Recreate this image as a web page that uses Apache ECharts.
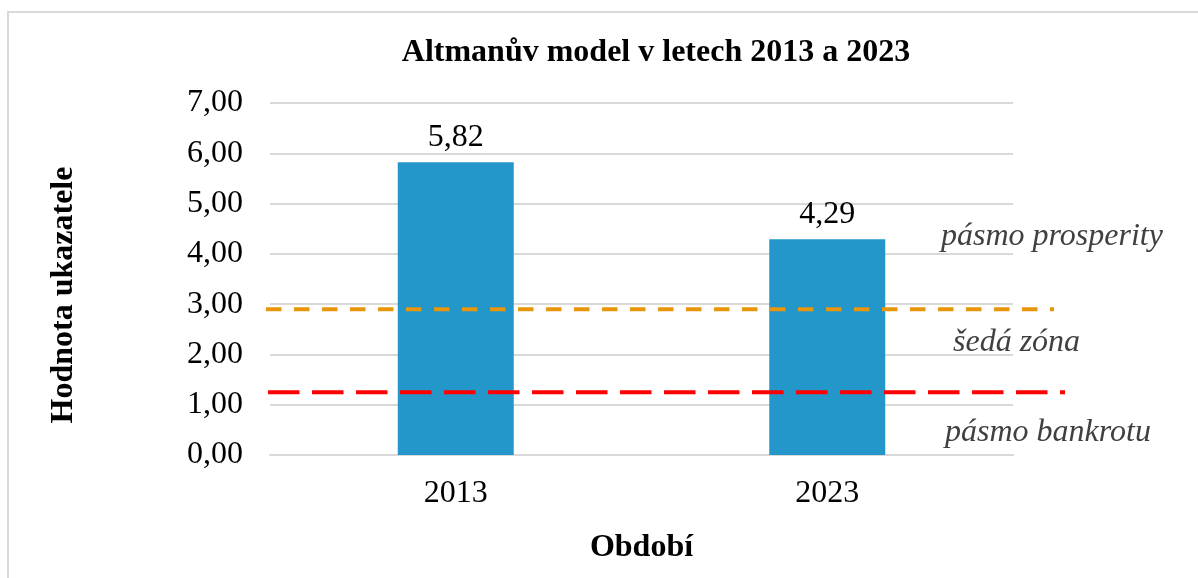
<!DOCTYPE html>
<html>
<head>
<meta charset="utf-8">
<script src="https://cdn.jsdelivr.net/npm/echarts@6/dist/echarts.min.js"></script>
<style>html,body{margin:0;padding:0;background:#fff}#c{width:1198px;height:578px}</style>
</head>
<body>
<div id="c"></div>
<script>
// ---- data ----
const titleText = 'Altmanův model v letech 2013 a 2023';
const categories = ['2013', '2023'];
const altmanValues = [5.82, 4.29];
const yMin = 0, yMax = 7, yStep = 1;
const upperThreshold = 2.9;   // hranice pásma prosperity
const lowerThreshold = 1.25;  // hranice pásma bankrotu
const zoneLabels = ['pásmo prosperity', 'šedá zóna', 'pásmo bankrotu'];
const xAxisTitle = 'Období';
const yAxisTitle = 'Hodnota ukazatele';

const FONT = '"Liberation Serif", "Times New Roman", serif';
const fmt = v => v.toFixed(2).replace('.', ',');

const chart = echarts.init(document.getElementById('c'), null, {renderer: 'canvas'});

const gridTop = 103, gridBottom = 123;

const option = {
  animation: false,
  backgroundColor: '#fff',
  title: {
    text: titleText,
    left: 651, top: 32, textAlign: 'center',
    textStyle: {fontFamily: FONT, fontSize: 32, fontWeight: 'bold', color: '#000'}
  },
  grid: [
    {left: 270, right: 185, top: gridTop, bottom: gridBottom},
    {left: 266, right: 144, top: gridTop, bottom: gridBottom},
    {left: 268, right: 133, top: gridTop, bottom: gridBottom}
  ],
  xAxis: [
    {
      type: 'category', data: categories, gridIndex: 0,
      axisLine: {show: true, lineStyle: {color: '#d9d9d9', width: 2}},
      axisTick: {show: false},
      axisLabel: {fontFamily: FONT, fontSize: 32, color: '#000', margin: 23},
      name: xAxisTitle, nameLocation: 'middle', nameGap: 77,
      nameTextStyle: {fontFamily: FONT, fontSize: 32, fontWeight: 'bold', color: '#000'}
    },
    {type: 'value', gridIndex: 1, min: 0, max: 1, show: false},
    {type: 'value', gridIndex: 2, min: 0, max: 1, show: false}
  ],
  yAxis: [
    {
      type: 'value', gridIndex: 0, min: yMin, max: yMax, interval: yStep,
      axisLine: {show: false}, axisTick: {show: false},
      splitLine: {lineStyle: {color: '#d9d9d9', width: 2}},
      axisLabel: {fontFamily: FONT, fontSize: 32, color: '#000', margin: 27, formatter: fmt},
      name: yAxisTitle, nameLocation: 'middle', nameGap: 190, nameRotate: 90,
      nameTextStyle: {fontFamily: FONT, fontSize: 32, fontWeight: 'bold', color: '#000',
        padding: [0, 32, 0, 0]}
    },
    {type: 'value', gridIndex: 1, min: yMin, max: yMax, show: false},
    {type: 'value', gridIndex: 2, min: yMin, max: yMax, show: false}
  ],
  series: [
    {
      type: 'bar', xAxisIndex: 0, yAxisIndex: 0,
      data: altmanValues, barWidth: 116,
      itemStyle: {color: '#2397CA'},
      label: {show: true, position: 'top', distance: 9, formatter: p => fmt(p.value),
        fontFamily: FONT, fontSize: 32, color: '#000'},
      z: 2
    },
    {
      type: 'line', xAxisIndex: 1, yAxisIndex: 1,
      data: [[0, upperThreshold], [1, upperThreshold]],
      symbol: 'none', silent: true,
      lineStyle: {color: '#E8960C', width: 4, type: [15.5, 12.5], cap: 'butt'},
      z: 5
    },
    {
      type: 'line', xAxisIndex: 2, yAxisIndex: 2,
      data: [[0, lowerThreshold], [1, lowerThreshold]],
      symbol: 'none', silent: true,
      lineStyle: {color: '#FF0000', width: 4, type: [31.5, 12.5], cap: 'butt'},
      z: 5
    }
  ],
  graphic: [
    {type: 'rect', shape: {x: 8, y: 12, width: 1300, height: 700},
      style: {fill: null, stroke: '#d9d9d9', lineWidth: 2}, silent: true, z: -1},
    {type: 'text', x: 941, y: 237,
      style: {text: zoneLabels[0], font: 'italic 32px ' + FONT, fill: '#404040', verticalAlign: 'middle'}},
    {type: 'text', x: 953, y: 343,
      style: {text: zoneLabels[1], font: 'italic 32px ' + FONT, fill: '#404040', verticalAlign: 'middle'}},
    {type: 'text', x: 945, y: 433,
      style: {text: zoneLabels[2], font: 'italic 32px ' + FONT, fill: '#404040', verticalAlign: 'middle'}}
  ]
};
chart.setOption(option);
</script>
</body>
</html>
